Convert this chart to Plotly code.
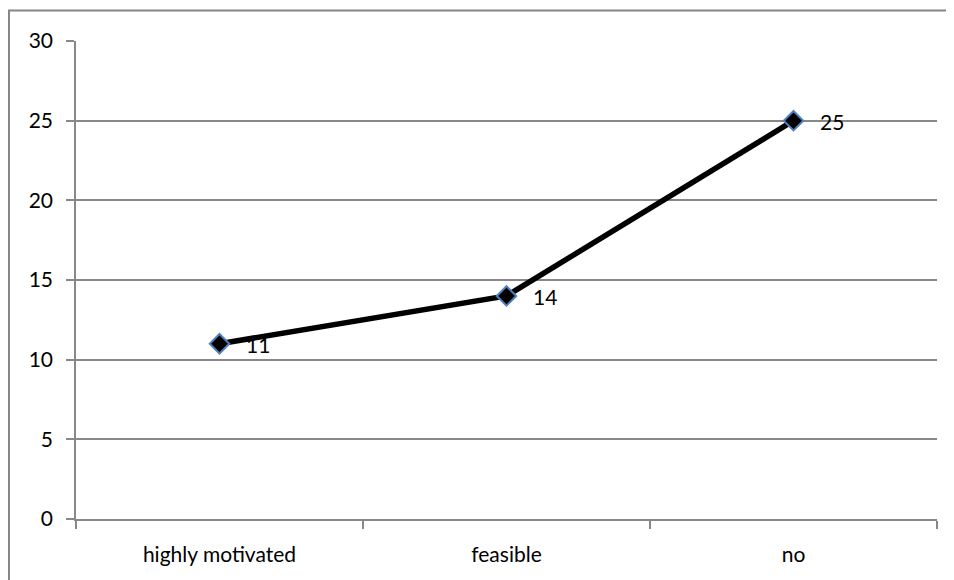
import plotly.graph_objects as go

categories = ["highly motivated", "feasible", "no"]
values = [11, 14, 25]
y_ticks = [0, 5, 10, 15, 20, 25, 30]

font_family = "Lato, 'Open Sans', sans-serif"
grid_color = "#888888"

# page body has an 8px margin; figure sized to fill the rest of the window
FW, FH = 946, 572
L, T, W, H = 68, 33, 861, 478

fig = go.Figure()
fig.add_trace(go.Scatter(
    x=categories, y=values, mode="lines+markers",
    line=dict(color="#000000", width=5.5),
    marker=dict(symbol="diamond", size=15, color="#000000",
                line=dict(color="#4F81BD", width=2)),
    hoverinfo="x+y", showlegend=False,
))

for c, v in zip(categories, values):
    fig.add_annotation(x=c, y=v, text=str(v), showarrow=False,
                       xanchor="left", yanchor="middle", xshift=24, yshift=-1,
                       font=dict(family=font_family, size=21, color="#000000"))

fig.add_shape(type="rect", xref="paper", yref="paper",
              x0=(1 - L) / W, x1=(1000 - L) / W,
              y0=-(620 - T - H) / H, y1=1 + (T - 2.5) / H,
              line=dict(color="#868686", width=2), fillcolor="rgba(0,0,0,0)",
              layer="below")

fig.update_layout(
    width=FW, height=FH,
    margin=dict(l=L, r=FW - L - W, t=T, b=FH - T - H),
    paper_bgcolor="#ffffff", plot_bgcolor="#ffffff",
    font=dict(family=font_family, size=21, color="#000000"),
    xaxis=dict(type="category", tickson="boundaries", ticks="outside",
               ticklen=8, tickcolor=grid_color, tickwidth=1.5,
               showgrid=False, showline=True, linecolor=grid_color, linewidth=1.5,
               range=[-0.5, 2.5], tickfont=dict(size=21), ticklabelstandoff=16),
    yaxis=dict(range=[0, 30], tickvals=y_ticks, ticktext=[str(t) for t in y_ticks],
               ticks="outside", ticklen=8, tickcolor=grid_color, tickwidth=1.5,
               showgrid=True, gridcolor=grid_color, gridwidth=1.5,
               showline=True, linecolor=grid_color, linewidth=1.5,
               zeroline=False, tickfont=dict(size=21), ticklabelstandoff=9),
)

fig.write_html("out.html")
